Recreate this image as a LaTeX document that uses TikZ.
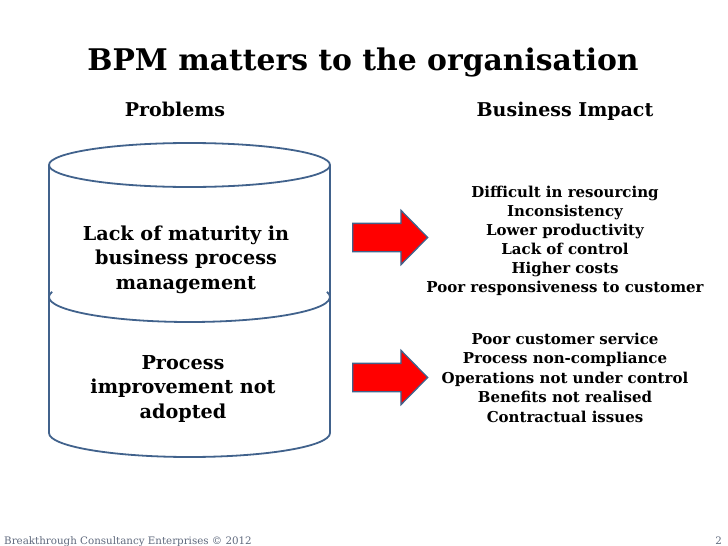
\documentclass[tikz,border=0pt]{standalone}
\usepackage{fontspec}
\setmainfont{DejaVu Serif}
\usetikzlibrary{shapes.arrows}

\definecolor{barrel}{RGB}{65,98,140}
\definecolor{footgray}{RGB}{95,105,125}

\tikzset{
  caption/.style 2 args={font=\bfseries\fontsize{#1}{#2}\selectfont, align=center},
  rim/.style={barrel, line width=1.8pt},
  bigarrow/.style={single arrow, draw=barrel, line width=1.3pt, fill=red,
    minimum height=75, inner xsep=0pt, inner ysep=13.5pt,
    single arrow head extend=13, single arrow tip angle=91}
}

\begin{document}
\begin{tikzpicture}[x=1pt,y=-1pt]
\useasboundingbox (0,0) rectangle (728,546);

% Headings
\node[caption={29.8}{32}, anchor=base] (title) at (363,70) {BPM matters to the organisation};
\node[caption={19}{22}, anchor=base] (problems) at (175,116) {Problems};
\node[caption={19}{22}, anchor=base] (impact) at (565,116) {Business Impact};

% Cylinder
\draw[rim] (189.5,165) ellipse[x radius=140.5, y radius=22];
\draw[rim] (49,165) -- (49,433)
  arc[start angle=180, end angle=0, x radius=140.5, y radius=24] -- (330,165);
\draw[rim] (52.1,291.8)
  arc[start angle=192, end angle=-12, x radius=140.5, y radius=25];

\node[caption={19.2}{24.5}, anchor=base] (lack) at (186,289)
  {Lack of maturity in\\business process\\management};
\node[caption={19.2}{24.5}, anchor=base] (adopt) at (183,418)
  {Process\\improvement not\\adopted};

% Arrows
\node[bigarrow, anchor=tail] (arrA) at (352,237.5) {};
\node[bigarrow, anchor=tail] (arrB) at (352,377.5) {};

% Impacts
\node[caption={15}{19}, anchor=base] (effA) at (565,292)
  {Difficult in resourcing\\Inconsistency\\Lower productivity\\Lack of control\\Higher costs\\Poor responsiveness to customer};
\node[caption={15}{19.5}, anchor=base] (effB) at (565,422)
  {Poor customer service\\Process non-compliance\\Operations not under control\\Benefits not realised\\Contractual issues};

% Footer
\node[font=\fontsize{10.3}{10.3}\selectfont, text=footgray, anchor=base west, inner sep=0pt] (foot) at (4,544)
  {Breakthrough Consultancy Enterprises © 2012};
\node[font=\fontsize{10.3}{10.3}\selectfont, text=footgray, anchor=base east, inner sep=0pt] (page) at (722,544) {2};

\end{tikzpicture}
\end{document}
